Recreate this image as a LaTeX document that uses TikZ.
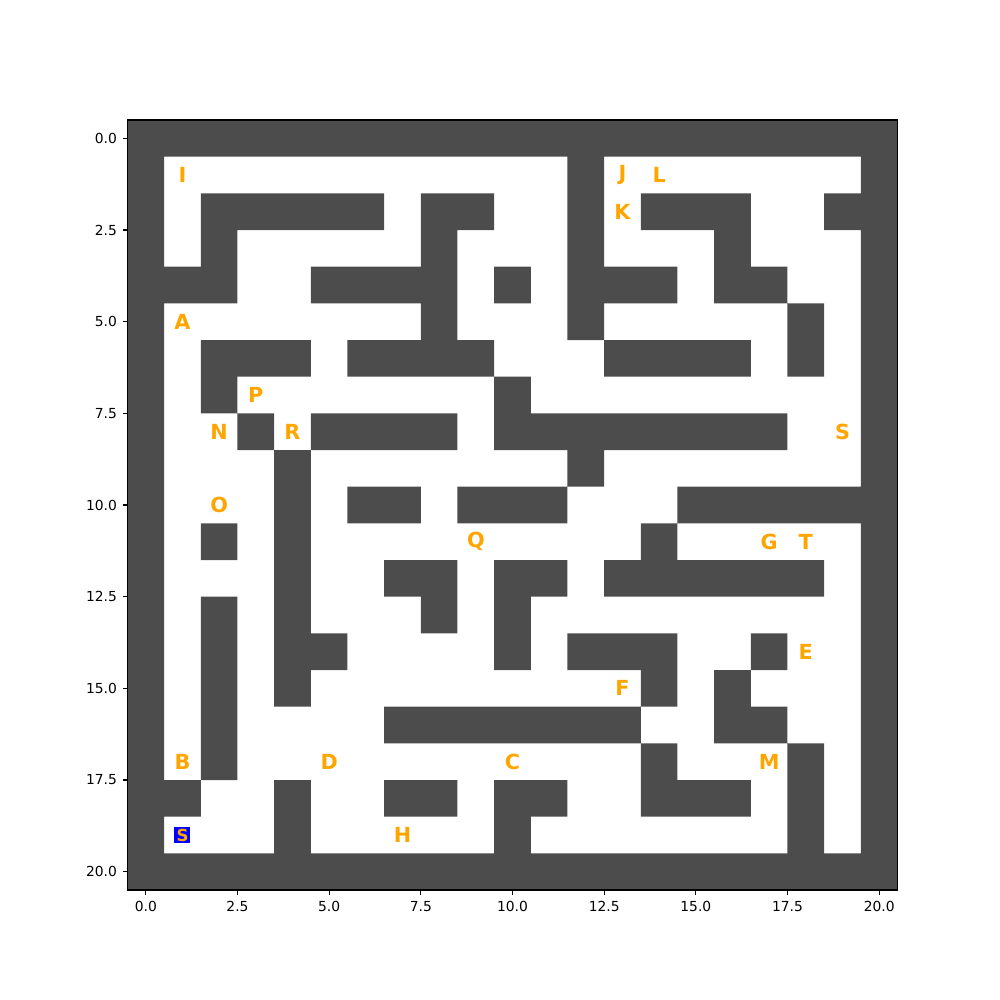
\documentclass[tikz,border=0pt]{standalone}
\usepackage{fontspec}
\setmainfont{DejaVu Sans}
\definecolor{wallgray}{gray}{0.3}
\definecolor{labelorange}{HTML}{FFA500}
\definecolor{startblue}{HTML}{0000FF}

\begin{document}
\begin{tikzpicture}[x=0.36667in,y=-0.36667in,font=\fontsize{10}{12}\selectfont,
    cell label/.style={text=labelorange,inner sep=0pt,font=\bfseries\fontsize{15}{18}\selectfont},
    start label/.style={fill=startblue,text=labelorange,inner sep=0pt,minimum size=0.16in,font=\bfseries\fontsize{12}{14}\selectfont},
    tick label/.style={inner sep=0pt,text=black}]
  \useasboundingbox (-3.977,-3.773) rectangle (23.295,23.5);
  % walls, one run per row: row/first column/last column
  \fill[wallgray] \foreach \r/\a/\b in {0/0/20,
      1/0/0, 1/12/12, 1/20/20,
      2/0/0, 2/2/6, 2/8/9, 2/12/12, 2/14/16, 2/19/20,
      3/0/0, 3/2/2, 3/8/8, 3/12/12, 3/16/16, 3/20/20,
      4/0/2, 4/5/8, 4/10/10, 4/12/14, 4/16/17, 4/20/20,
      5/0/0, 5/8/8, 5/12/12, 5/18/18, 5/20/20,
      6/0/0, 6/2/4, 6/6/9, 6/13/16, 6/18/18, 6/20/20,
      7/0/0, 7/2/2, 7/10/10, 7/20/20,
      8/0/0, 8/3/3, 8/5/8, 8/10/17, 8/20/20,
      9/0/0, 9/4/4, 9/12/12, 9/20/20,
      10/0/0, 10/4/4, 10/6/7, 10/9/11, 10/15/20,
      11/0/0, 11/2/2, 11/4/4, 11/14/14, 11/20/20,
      12/0/0, 12/4/4, 12/7/8, 12/10/11, 12/13/18, 12/20/20,
      13/0/0, 13/2/2, 13/4/4, 13/8/8, 13/10/10, 13/20/20,
      14/0/0, 14/2/2, 14/4/5, 14/10/10, 14/12/14, 14/17/17, 14/20/20,
      15/0/0, 15/2/2, 15/4/4, 15/14/14, 15/16/16, 15/20/20,
      16/0/0, 16/2/2, 16/7/13, 16/16/17, 16/20/20,
      17/0/0, 17/2/2, 17/14/14, 17/18/18, 17/20/20,
      18/0/1, 18/4/4, 18/7/8, 18/10/11, 18/14/16, 18/18/18, 18/20/20,
      19/0/0, 19/4/4, 19/10/10, 19/18/18, 19/20/20,
      20/0/20}
    {(\a-0.5,\r-0.5) rectangle (\b+0.5,\r+0.5)};
  % frame
  \draw[line width=0.8pt] (-0.5,-0.5) rectangle (20.5,20.5);
  % ticks
  \foreach \t [count=\i] in {0.0,2.5,5.0,7.5,10.0,12.5,15.0,17.5,20.0} {
    \draw[line width=0.8pt] (\t,20.5) -- ++(0pt,-3.5pt) coordinate (xt\i);
    \node[tick label,anchor=north,yshift=-4.5pt] (xl\i) at (xt\i) {\t};
    \draw[line width=0.8pt] (-0.5,\t) -- ++(-3.5pt,0pt) coordinate (yt\i);
    \node[tick label,anchor=east,xshift=-4pt] (yl\i) at (yt\i) {\t};
  }
  % cell labels
  \foreach \c/\r/\txt in {1/1/I, 13/1/J, 14/1/L, 13/2/K, 1/5/A, 3/7/P, 2/8/N,
      4/8/R, 19/8/S, 2/10/O, 9/11/Q, 17/11/G, 18/11/T, 18/14/E, 13/15/F,
      1/17/B, 5/17/D, 10/17/C, 17/17/M, 7/19/H}
    \node[cell label] (lbl\txt) at (\c,\r) {\txt};
  % start cell
  \node[start label] (start) at (1,19) {S};
\end{tikzpicture}
\end{document}
